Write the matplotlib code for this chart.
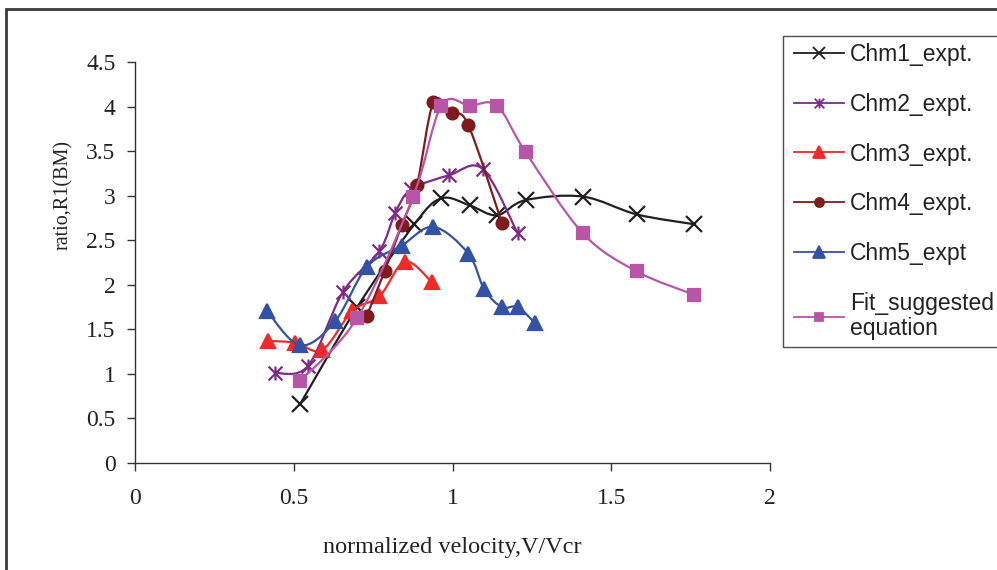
import numpy as np
import matplotlib
matplotlib.use("Agg")
import matplotlib.pyplot as plt
from matplotlib.path import Path
from matplotlib.patches import PathPatch, Rectangle
from matplotlib.legend_handler import HandlerLine2D
import matplotlib.lines as mlines

# Values
chm1_x = [0.52, 0.70, 0.88, 0.965, 1.055, 1.14, 1.23, 1.41, 1.58, 1.76]
chm1_y = [0.66, 1.75, 2.68, 2.97, 2.89, 2.78, 2.95, 2.99, 2.79, 2.68]

chm2_x = [0.44, 0.545, 0.655, 0.77, 0.82, 0.87, 0.99, 1.095, 1.205]
chm2_y = [1.01, 1.09, 1.92, 2.38, 2.81, 3.07, 3.23, 3.30, 2.58]

chm3_x = [0.42, 0.505, 0.59, 0.685, 0.77, 0.85, 0.935]
chm3_y = [1.37, 1.35, 1.27, 1.71, 1.87, 2.26, 2.03]

chm4_x = [0.73, 0.787, 0.84, 0.888, 0.94, 0.998, 1.05, 1.156]
chm4_y = [1.65, 2.16, 2.67, 3.12, 4.05, 3.93, 3.79, 2.69]

chm5_x = [0.415, 0.52, 0.63, 0.73, 0.84, 0.94, 1.05, 1.10, 1.155, 1.205, 1.26]
chm5_y = [1.71, 1.32, 1.59, 2.20, 2.44, 2.65, 2.35, 1.95, 1.75, 1.75, 1.57]

fit_x = [0.52, 0.70, 0.875, 0.965, 1.055, 1.14, 1.23, 1.41, 1.58, 1.76]
fit_y = [0.92, 1.63, 2.98, 4.01, 4.01, 4.01, 3.49, 2.58, 2.15, 1.89]

labels = ["Chm1_expt.", "Chm2_expt.", "Chm3_expt.", "Chm4_expt.", "Chm5_expt",
          "Fit_suggested\nequation"]

x_ticks = [0, 0.5, 1, 1.5, 2]
x_tick_labels = ["0", "0.5", "1", "1.5", "2"]
y_ticks = [0, 0.5, 1, 1.5, 2, 2.5, 3, 3.5, 4, 4.5]
y_tick_labels = ["0", "0.5", "1", "1.5", "2", "2.5", "3", "3.5", "4", "4.5"]

# asterisk marker: vertical bar plus an x
star = Path([(0, -1), (0, 1), (-1, -1), (1, 1), (-1, 1), (1, -1)],
            [Path.MOVETO, Path.LINETO, Path.MOVETO, Path.LINETO, Path.MOVETO, Path.LINETO])

styles = [
    dict(color="#231f20", marker="x", ms=11, lms=8),
    dict(color="#7d2b86", marker=star, ms=10, lms=7),
    dict(color="#ee2a2a", marker="^", ms=10, lms=8),
    dict(color="#7f1b1d", marker="o", ms=8.5, lms=6.5),
    dict(color="#3452a3", marker="^", ms=10, lms=8),
    dict(color="#b855a6", marker="s", ms=8.5, lms=6),
]


def smooth_path(x, y):
    # Excel-like smoothed line drawn as cubic Bezier segments through the points
    pts = np.column_stack([x, y]).astype(float)
    n = len(pts)
    verts = [pts[0]]
    codes = [Path.MOVETO]
    for i in range(n - 1):
        p0 = pts[i - 1] if i > 0 else pts[i]
        p1 = pts[i]
        p2 = pts[i + 1]
        p3 = pts[i + 2] if i + 2 < n else pts[i + 1]
        verts += [p1 + (p2 - p0) / 6, p2 - (p3 - p1) / 6, p2]
        codes += [Path.CURVE4] * 3
    return Path(verts, codes)


fig = plt.figure(figsize=(9.97, 5.70), dpi=100)
ax = fig.add_axes([135 / 997, 107 / 570, 635 / 997, 401 / 570])

series = [(chm1_x, chm1_y), (chm2_x, chm2_y), (chm3_x, chm3_y),
          (chm4_x, chm4_y), (chm5_x, chm5_y), (fit_x, fit_y)]

handles = []
for k, ((xs, ys), st, lab) in enumerate(zip(series, styles, labels)):
    ax.add_patch(PathPatch(smooth_path(xs, ys), facecolor="none",
                           edgecolor=st["color"], lw=1.6, zorder=2 + k))
    ax.plot(xs, ys, linestyle="none", marker=st["marker"], ms=st["ms"],
            color=st["color"], mec=st["color"], mew=1.6, zorder=2 + k)
    handles.append(mlines.Line2D([], [], color=st["color"], lw=1.3,
                                 marker=st["marker"], ms=st["lms"], mew=1.3,
                                 label=lab))

ax.set_xlim(0, 2)
ax.set_ylim(0, 4.5)
ax.set_xticks(x_ticks)
ax.set_xticklabels(x_tick_labels)
ax.set_yticks(y_ticks)
ax.set_yticklabels(y_tick_labels)

for s in ["top", "right"]:
    ax.spines[s].set_visible(False)
for s in ["left", "bottom"]:
    ax.spines[s].set_color("#333333")
    ax.spines[s].set_linewidth(1.0)

ax.tick_params(axis="both", direction="out", length=6, width=1.0, color="#333333",
               labelcolor="#222222")
ax.tick_params(axis="x", pad=12)
ax.tick_params(axis="y", pad=8)
for t in ax.get_xticklabels() + ax.get_yticklabels():
    t.set_fontfamily("Liberation Serif")
    t.set_fontsize(17)

ax.set_xlabel("normalized velocity,V/Vcr", family="Liberation Serif", fontsize=17.5,
              color="#222222")
ax.xaxis.set_label_coords(0.5, -0.185)
ax.set_ylabel("ratio,R1(BM)", family="Liberation Serif", fontsize=14.5, color="#222222")
ax.yaxis.set_label_coords(-0.098, 0.668)

leg = fig.legend(handles=handles, loc="upper left",
                 bbox_to_anchor=(783 / 997, 1 - 36 / 570), borderaxespad=0,
                 prop={"family": "Liberation Sans", "size": 16.5},
                 frameon=True, fancybox=False, shadow=False, numpoints=1,
                 handlelength=2.36, handletextpad=0.26, labelspacing=1.17,
                 borderpad=0.3,
                 handler_map={mlines.Line2D: HandlerLine2D(xpad=0.17)})
leg.get_frame().set_edgecolor("#222222")
leg.get_frame().set_linewidth(1.0)
for t in leg.get_texts():
    t.set_color("#222222")
    t.set_linespacing(1.12)

# outer frame around the chart
fig.patches.append(Rectangle((6 / 997, -0.2), 1.2, 1.2 - 9 / 570, transform=fig.transFigure,
                             fill=False, edgecolor="#3a3a3a", lw=2.0))

fig.savefig("out.png", dpi=100)
plt.close(fig)
